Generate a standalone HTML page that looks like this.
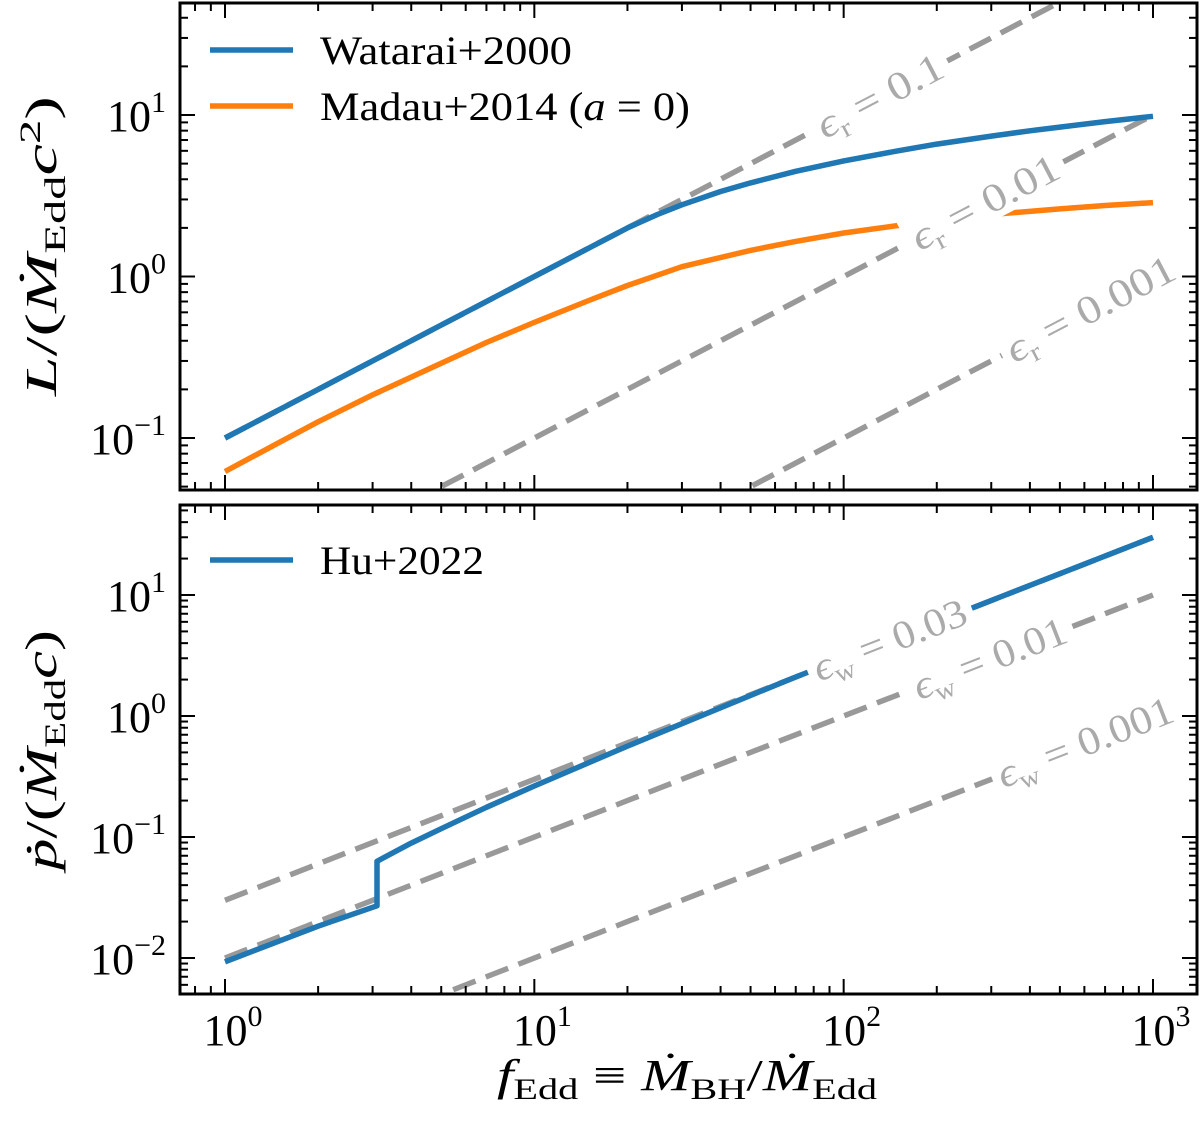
<!DOCTYPE html>
<html><head><meta charset="utf-8"><style>
body{margin:0;background:#fff;}
svg{display:block;}
text{font-family:"Liberation Serif","DejaVu Serif",serif;}
</style></head><body>
<svg id="chart" width="1200" height="1122" viewBox="0 0 1200 1122" xmlns="http://www.w3.org/2000/svg"></svg>
<script>
// ---- data ----
const wataraiF = [1, 2, 5, 10, 20, 25, 30, 40, 50, 70, 100, 150, 200, 300, 400, 500, 700, 1000];
const wataraiL = [0.1, 0.2, 0.5, 1.0, 2.0, 2.42, 2.78, 3.36, 3.8, 4.48, 5.2, 6.0, 6.6, 7.4, 7.98, 8.42, 9.1, 9.82];
const madauF = [1, 1.5, 2, 3, 5, 7, 10, 15, 20, 30, 50, 70, 100, 150, 200, 300, 500, 700, 1000];
const madauL = [0.062, 0.094, 0.126, 0.185, 0.29, 0.39, 0.52, 0.71, 0.88, 1.15, 1.45, 1.65, 1.86, 2.07, 2.22, 2.42, 2.62, 2.75, 2.87];
const huF = [1, 2, 3.1, 3.1, 4, 5, 7, 10, 20, 30, 50, 70, 100, 200, 500, 1000];
const huP = [0.0093, 0.0183, 0.027, 0.063, 0.089, 0.117, 0.176, 0.264, 0.564, 0.864, 1.48, 2.1, 3.0, 6.0, 15, 30];
const epsR = [0.1, 0.01, 0.001];
const epsRLabels = ["0.1", "0.01", "0.001"];
const epsRLabelF = [131, 287, 628];
const epsW = [0.03, 0.01, 0.001];
const epsWLabels = ["0.03", "0.01", "0.001"];
const epsWLabelF = [141, 297, 604];

const NS = "http://www.w3.org/2000/svg";
const svg = document.getElementById("chart");
function mk(tag, attrs, parent) {
  const e = document.createElementNS(NS, tag);
  for (const k in attrs) e.setAttribute(k, attrs[k]);
  (parent || svg).appendChild(e);
  return e;
}
const X0 = 180, X1 = 1197;
const xLogMin = Math.log10(1) - (225 - X0) / 309.3;
const xLogMax = 3 + (X1 - 1153) / 309.3;
function xs(f) { return X0 + (Math.log10(f) - xLogMin) / (xLogMax - xLogMin) * (X1 - X0); }

const topP = { y0: 3, y1: 490, lmin: -1 - (490 - 438) / 161.5, lmax: 1 + (115 - 3) / 161.5 };
const botP = { y0: 505, y1: 994, lmin: -2 - (994 - 958) / 121, lmax: 1 + (595 - 505) / 121 };
function ys(p, v) { return p.y1 - (Math.log10(v) - p.lmin) / (p.lmax - p.lmin) * (p.y1 - p.y0); }

function panel(p, id) {
  const defs = mk("defs", {});
  const cp = mk("clipPath", { id: id }, defs);
  mk("rect", { x: X0, y: p.y0, width: X1 - X0, height: p.y1 - p.y0 }, cp);
  return mk("g", { "clip-path": "url(#" + id + ")" });
}
function pathD(p, fs, vs) {
  return fs.map((f, i) => (i ? "L" : "M") + xs(f).toFixed(1) + "," + ys(p, vs[i]).toFixed(1)).join(" ");
}
function dashLine(p, g, eps, name) {
  const l = mk("line", { x1: xs(1), y1: ys(p, eps * 1), x2: xs(1000), y2: ys(p, eps * 1000), stroke: "#999", "stroke-width": 5.5, "stroke-dasharray": "24 11" }, g);
  
  
}
function epsLabel(p, g, eps, f, txt, sub, name) {
  const x = xs(f), y = ys(p, eps * f);
  const ang = Math.atan2(ys(p, eps * 1000) - ys(p, eps), xs(1000) - xs(1)) * 180 / Math.PI;
  const gg = mk("g", { transform: "translate(" + x + "," + y + ") rotate(" + ang + ")" }, g);
  
  
  const w = 80 + txt.length * 24;
  mk("rect", { x: -w / 2, y: -24, width: w, height: 44, fill: "#fff" }, gg);
  const t = mk("text", { x: 0, y: 13, "text-anchor": "middle", "font-size": 40, fill: "#aaa", textLength: w - 14, lengthAdjust: "spacingAndGlyphs" }, gg);
  t.innerHTML = '<tspan font-style="italic">ϵ</tspan><tspan font-size="26" dy="8">' + sub + '</tspan><tspan dy="-8"> = ' + txt + '</tspan>';
}
function series(p, g, fs, vs, color, name) {
  const e = mk("path", { d: pathD(p, fs, vs), fill: "none", stroke: color, "stroke-width": 5.5, "stroke-linejoin": "round" }, g);
  
  
}
function axes(p, ticksY, showX) {
  const tg = mk("g", { stroke: "#000", "stroke-width": 2 });
  for (let d = -1; d <= 3; d++) for (let m = 1; m <= 9; m++) {
    const v = m * Math.pow(10, d), x = xs(v);
    if (x < X0 + 1 || x > X1 - 1) continue;
    const L = m === 1 ? 15 : 8;
    mk("line", { x1: x, y1: p.y1, x2: x, y2: p.y1 - L }, tg);
    mk("line", { x1: x, y1: p.y0, x2: x, y2: p.y0 + L }, tg);
  }
  for (let d = -3; d <= 2; d++) for (let m = 1; m <= 9; m++) {
    const v = m * Math.pow(10, d), y = ys(p, v);
    if (y < p.y0 + 1 || y > p.y1 - 1) continue;
    const L = m === 1 ? 15 : 8;
    mk("line", { x1: X0, y1: y, x2: X0 + L, y2: y }, tg);
    mk("line", { x1: X1, y1: y, x2: X1 - L, y2: y }, tg);
  }
  const fr = mk("rect", { x: X0, y: p.y0, width: X1 - X0, height: p.y1 - p.y0, fill: "none", stroke: "#000", "stroke-width": 3 });
  
  
  ticksY.forEach(e => {
    const t = mk("text", { x: 166, y: ys(p, Math.pow(10, e)) + 16, "text-anchor": "end", "font-size": 44 });
    t.innerHTML = '10<tspan font-size="30" dy="-19">' + (e < 0 ? '−' + (-e) : e) + '</tspan>';
    
    
  });
  if (showX) [0, 1, 2, 3].forEach(e => {
    const t = mk("text", { x: xs(Math.pow(10, e)) + 8, y: 1045, "text-anchor": "middle", "font-size": 44 });
    t.innerHTML = '10<tspan font-size="30" dy="-19">' + e + '</tspan>';
    
    
  });
}

// top panel
const gt = panel(topP, "cpt");
epsR.forEach((e, i) => dashLine(topP, gt, e, "eps-r-line-" + i));
series(topP, gt, madauF, madauL, "#ff7f0e", "madau-2014-line");
series(topP, gt, wataraiF, wataraiL, "#1f77b4", "watarai-2000-line");
epsR.forEach((e, i) => epsLabel(topP, gt, e, epsRLabelF[i], epsRLabels[i], "r", "eps-r-label-" + i));
axes(topP, [-1, 0, 1], false);

// bottom panel
const gb = panel(botP, "cpb");
epsW.forEach((e, i) => dashLine(botP, gb, e, "eps-w-line-" + i));
series(botP, gb, huF, huP, "#1f77b4", "hu-2022-line");
epsW.forEach((e, i) => epsLabel(botP, gb, e, epsWLabelF[i], epsWLabels[i], "w", "eps-w-label-" + i));
axes(botP, [-2, -1, 0, 1], true);

// legends
function legend(y, color, html, w, name) {
  const g = mk("g", {});
  
  
  mk("line", { x1: 210, y1: y, x2: 293, y2: y, stroke: color, "stroke-width": 5.5 }, g);
  const t = mk("text", { x: 320, y: y + 14, "font-size": 40, textLength: w, lengthAdjust: "spacingAndGlyphs" }, g);
  t.innerHTML = html;
}
legend(50, "#1f77b4", "Watarai+2000", 252, "legend-watarai");
legend(106, "#ff7f0e", 'Madau+2014 (<tspan font-style="italic">a</tspan> = 0)', 370, "legend-madau");
legend(560, "#1f77b4", "Hu+2022", 164, "legend-hu");

// axis titles
let t = mk("text", { x: 687, y: 1090, "text-anchor": "middle", "font-size": 44, textLength: 380, lengthAdjust: "spacingAndGlyphs" });
t.innerHTML = '<tspan font-style="italic">f</tspan><tspan font-size="30" dy="9">Edd</tspan><tspan dy="-9"> ≡ </tspan><tspan font-style="italic">Ṁ</tspan><tspan font-size="30" dy="9">BH</tspan><tspan dy="-9">/</tspan><tspan font-style="italic">Ṁ</tspan><tspan font-size="30" dy="9">Edd</tspan>';


t = mk("text", { x: 0, y: 0, "text-anchor": "middle", "font-size": 44, textLength: 300, lengthAdjust: "spacingAndGlyphs", transform: "translate(56,246) rotate(-90)" });
t.innerHTML = '<tspan font-style="italic">L</tspan>/(<tspan font-style="italic">Ṁ</tspan><tspan font-size="30" dy="9">Edd</tspan><tspan font-style="italic" dy="-9">c</tspan><tspan font-size="30" dy="-16">2</tspan><tspan dy="16">)</tspan>';


t = mk("text", { x: 0, y: 0, "text-anchor": "middle", "font-size": 44, textLength: 240, lengthAdjust: "spacingAndGlyphs", transform: "translate(56,750) rotate(-90)" });
t.innerHTML = '<tspan font-style="italic">ṗ</tspan>/(<tspan font-style="italic">Ṁ</tspan><tspan font-size="30" dy="9">Edd</tspan><tspan font-style="italic" dy="-9">c</tspan>)';


</script>
</body></html>
